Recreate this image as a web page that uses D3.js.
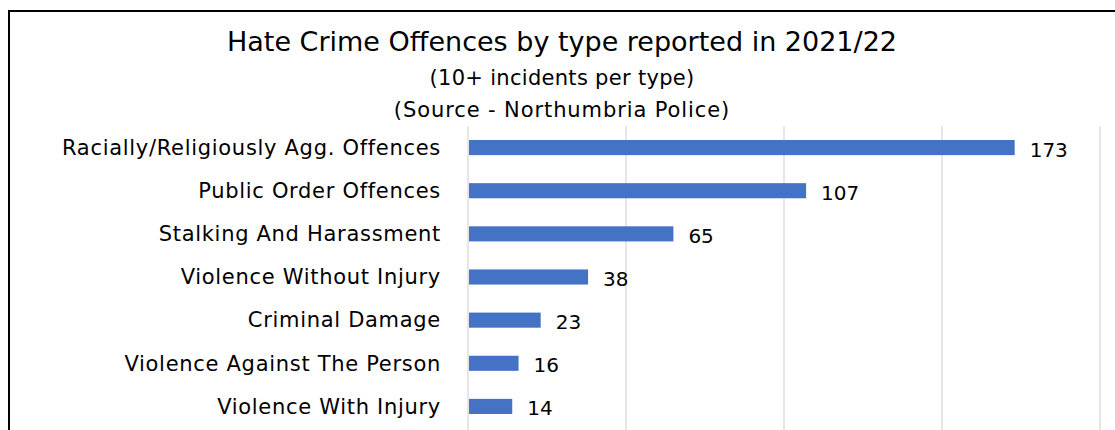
<!DOCTYPE html>
<html>
<head>
<meta charset="utf-8">
<script src="https://cdn.jsdelivr.net/npm/d3@7"></script>
<style>
  html, body { margin: 0; padding: 0; background: #fff; }
  svg { display: block; }
  text { font-family: "DejaVu Sans", sans-serif; fill: #000; }
</style>
</head>
<body>
<svg id="chart" width="1115" height="430"></svg>
<script>
const categories = [
  "Racially/Religiously Agg. Offences",
  "Public Order Offences",
  "Stalking And Harassment",
  "Violence Without Injury",
  "Criminal Damage",
  "Violence Against The Person",
  "Violence With Injury"
];
const values = [173, 107, 65, 38, 23, 16, 14];
const xTicks = [0, 50, 100, 150, 200];
const titleLines = [
  "Hate Crime Offences by type reported in 2021/22",
  "(10+ incidents per type)",
  "(Source - Northumbria Police)"
];

const svg = d3.select("#chart");

// outer frame (top and left visible)
svg.append("rect")
  .attr("x", 9).attr("y", 11)
  .attr("width", 1130).attr("height", 450)
  .attr("fill", "none").attr("stroke", "#000").attr("stroke-width", 2);

const x = d3.scaleLinear().domain([0, 200]).range([468, 1100]);
const y = d3.scaleBand().domain(categories).range([126, 428])
  .paddingInner(0.65).paddingOuter(0.325);

// gridlines
svg.append("g").selectAll("line").data(xTicks).join("line")
  .attr("x1", d => x(d)).attr("x2", d => x(d))
  .attr("y1", 126).attr("y2", 430)
  .attr("stroke", "#d9d9d9").attr("stroke-width", 1.3);

// bars
svg.append("g").selectAll("rect").data(values).join("rect")
  .attr("x", x(0) + 1)
  .attr("y", (d, i) => y(categories[i]))
  .attr("width", d => x(d) - x(0) - 1)
  .attr("height", y.bandwidth())
  .attr("fill", "#4472C4");

// category labels
svg.append("g").selectAll("text").data(categories).join("text")
  .attr("x", 441)
  .attr("y", d => y(d) + y.bandwidth() / 2)
  .attr("dy", "0.35em")
  .attr("text-anchor", "end")
  .style("font-size", "21px")
  .style("letter-spacing", "0.7px")
  .text(d => d);

// value labels
svg.append("g").selectAll("text").data(values).join("text")
  .attr("x", d => x(d) + 15)
  .attr("y", (d, i) => y(categories[i]) + y.bandwidth() / 2 + 2)
  .attr("dy", "0.35em")
  .style("font-size", "20px")
  .text(d => d);

// titles
const tY = [51, 85, 117];
const tSize = [27, 21, 21];
const tSpacing = [0, 0.3, 0.9];
svg.append("g").selectAll("text").data(titleLines).join("text")
  .attr("x", 562)
  .attr("y", (d, i) => tY[i])
  .attr("text-anchor", "middle")
  .style("font-size", (d, i) => tSize[i] + "px")
  .style("letter-spacing", (d, i) => tSpacing[i] + "px")
  .text(d => d);
</script>
</body>
</html>
